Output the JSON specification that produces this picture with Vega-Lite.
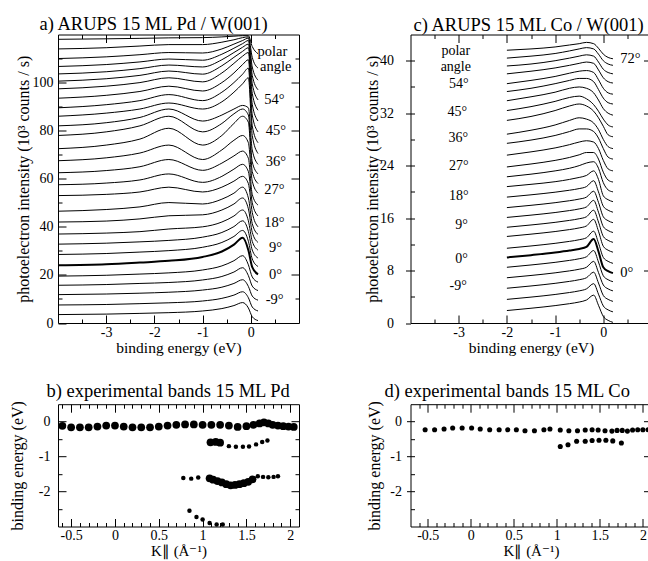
{
"$schema":"https://vega.github.io/schema/vega-lite/v6.json",
"padding":{"left":8,"top":13.5,"right":0,"bottom":0},
"background":"white",
"config":{"font":"Liberation Serif","view":{"stroke":"black","strokeWidth":1},
"axis":{"domain":false,"grid":false,"minExtent":0,"maxExtent":200,"tickColor":"black","tickWidth":1,"labelColor":"black","titleColor":"black","labelFont":"Liberation Serif","titleFont":"Liberation Serif","labelFontSize":14,"titleFontSize":16,"titleFontWeight":"normal","labelOverlap":false},
"text":{"font":"Liberation Serif"},
"title":{"font":"Liberation Serif","fontSize":18.5,"fontWeight":"normal","color":"black"}},
"datasets":{
"pd":[
{"k":1,"e":-4,"v":3.5},{"k":1,"e":-3,"v":3.7},{"k":1,"e":-2.3,"v":4.0},{"k":1,"e":-1.7,"v":4.3},{"k":1,"e":-1,"v":5.0},{"k":1,"e":-0.6,"v":6.0},{"k":1,"e":-0.35,"v":7.25},{"k":1,"e":-0.17,"v":8.5},{"k":1,"e":-0.05,"v":6.25},{"k":1,"e":0.03,"v":2.6},{"k":1,"e":0.15,"v":1.0},
{"k":2,"e":-4,"v":7.5},{"k":2,"e":-3,"v":7.7},{"k":2,"e":-2.3,"v":8.05},{"k":2,"e":-1.7,"v":8.4},{"k":2,"e":-1,"v":9.15},{"k":2,"e":-0.6,"v":10.25},{"k":2,"e":-0.35,"v":11.6},{"k":2,"e":-0.17,"v":13.0},{"k":2,"e":-0.05,"v":10.5},{"k":2,"e":0.03,"v":6.65},{"k":2,"e":0.15,"v":5.0},
{"k":3,"e":-4,"v":11.8},{"k":3,"e":-3,"v":12.05},{"k":3,"e":-2.3,"v":12.4},{"k":3,"e":-1.7,"v":12.8},{"k":3,"e":-1,"v":13.7},{"k":3,"e":-0.6,"v":14.9},{"k":3,"e":-0.35,"v":16.45},{"k":3,"e":-0.17,"v":18.0},{"k":3,"e":-0.05,"v":15.2},{"k":3,"e":0.03,"v":11.2},{"k":3,"e":0.15,"v":9.5},
{"k":4,"e":-4,"v":15.7},{"k":4,"e":-3,"v":16.0},{"k":4,"e":-2.3,"v":16.45},{"k":4,"e":-1.7,"v":16.85},{"k":4,"e":-1,"v":17.9},{"k":4,"e":-0.6,"v":19.35},{"k":4,"e":-0.35,"v":21.2},{"k":4,"e":-0.17,"v":23.0},{"k":4,"e":-0.05,"v":19.7},{"k":4,"e":0.03,"v":15.35},{"k":4,"e":0.15,"v":13.5},
{"k":5,"e":-4,"v":19.5},{"k":5,"e":-3,"v":19.85},{"k":5,"e":-2.3,"v":20.35},{"k":5,"e":-1.7,"v":20.85},{"k":5,"e":-1,"v":22.05},{"k":5,"e":-0.6,"v":23.75},{"k":5,"e":-0.35,"v":25.9},{"k":5,"e":-0.17,"v":28.0},{"k":5,"e":-0.05,"v":24.2},{"k":5,"e":0.03,"v":19.15},{"k":5,"e":0.15,"v":17.0},
{"k":6,"e":-4,"v":24},{"k":6,"e":-3,"v":24.45},{"k":6,"e":-2.3,"v":25.15},{"k":6,"e":-1.7,"v":25.85},{"k":6,"e":-1,"v":27.45},{"k":6,"e":-0.6,"v":29.75},{"k":6,"e":-0.35,"v":32.6},{"k":6,"e":-0.17,"v":35.5},{"k":6,"e":-0.05,"v":30.3},{"k":6,"e":0.03,"v":23.2},{"k":6,"e":0.15,"v":20.2},
{"k":7,"e":-4,"v":28.5},{"k":7,"e":-3,"v":28.9},{"k":7,"e":-2.3,"v":29.5},{"k":7,"e":-1.7,"v":30.1},{"k":7,"e":-1,"v":31.5},{"k":7,"e":-0.6,"v":33.5},{"k":7,"e":-0.35,"v":36.0},{"k":7,"e":-0.17,"v":38.5},{"k":7,"e":-0.05,"v":34.0},{"k":7,"e":0.03,"v":26.65},{"k":7,"e":0.15,"v":23.5},
{"k":8,"e":-4,"v":32.8},{"k":8,"e":-3,"v":33.2},{"k":8,"e":-2.3,"v":33.75},{"k":8,"e":-1.7,"v":34.35},{"k":8,"e":-1,"v":35.7},{"k":8,"e":-0.6,"v":37.65},{"k":8,"e":-0.35,"v":40.1},{"k":8,"e":-0.17,"v":42.5},{"k":8,"e":-0.05,"v":38.1},{"k":8,"e":0.03,"v":30.35},{"k":8,"e":0.15,"v":27.0},
{"k":9,"e":-4,"v":37},{"k":9,"e":-3,"v":37.4},{"k":9,"e":-2.3,"v":38.0},{"k":9,"e":-1.7,"v":39.1},{"k":9,"e":-1,"v":40.0},{"k":9,"e":-0.6,"v":42.0},{"k":9,"e":-0.35,"v":44.5},{"k":9,"e":-0.17,"v":47.0},{"k":9,"e":-0.05,"v":42.5},{"k":9,"e":0.03,"v":33.95},{"k":9,"e":0.15,"v":30.3},
{"k":10,"e":-4,"v":42},{"k":10,"e":-3,"v":42.4},{"k":10,"e":-2.3,"v":43.3},{"k":10,"e":-1.7,"v":44.6},{"k":10,"e":-1,"v":45.0},{"k":10,"e":-0.6,"v":47.0},{"k":10,"e":-0.35,"v":49.5},{"k":10,"e":-0.17,"v":52.0},{"k":10,"e":-0.05,"v":47.5},{"k":10,"e":0.03,"v":37.7},{"k":10,"e":0.15,"v":33.5},
{"k":11,"e":-4,"v":46.5},{"k":11,"e":-3,"v":47.2},{"k":11,"e":-2.3,"v":48.3},{"k":11,"e":-1.7,"v":50.1},{"k":11,"e":-1,"v":49.5},{"k":11,"e":-0.6,"v":51.5},{"k":11,"e":-0.35,"v":54.0},{"k":11,"e":-0.17,"v":56.5},{"k":11,"e":-0.05,"v":52.0},{"k":11,"e":0.03,"v":41.35},{"k":11,"e":0.15,"v":36.8},
{"k":12,"e":-4,"v":53},{"k":12,"e":-3,"v":53.5},{"k":12,"e":-2.3,"v":54.5},{"k":12,"e":-1.7,"v":56.5},{"k":12,"e":-1,"v":54.5},{"k":12,"e":-0.6,"v":56.5},{"k":12,"e":-0.35,"v":59},{"k":12,"e":-0.17,"v":61},{"k":12,"e":-0.05,"v":58},{"k":12,"e":0.03,"v":46},{"k":12,"e":0.15,"v":40},
{"k":13,"e":-4,"v":57.5},{"k":13,"e":-3,"v":58.2},{"k":13,"e":-2.3,"v":59.5},{"k":13,"e":-1.7,"v":62},{"k":13,"e":-1,"v":58.5},{"k":13,"e":-0.6,"v":61},{"k":13,"e":-0.35,"v":64},{"k":13,"e":-0.17,"v":66},{"k":13,"e":-0.05,"v":63},{"k":13,"e":0.03,"v":50},{"k":13,"e":0.15,"v":44.5},
{"k":14,"e":-4,"v":62.5},{"k":14,"e":-3,"v":63.4},{"k":14,"e":-2.3,"v":65},{"k":14,"e":-1.7,"v":68},{"k":14,"e":-1,"v":63.5},{"k":14,"e":-0.6,"v":66.5},{"k":14,"e":-0.35,"v":69.5},{"k":14,"e":-0.17,"v":71.5},{"k":14,"e":-0.05,"v":68.5},{"k":14,"e":0.03,"v":53.5},{"k":14,"e":0.15,"v":49},
{"k":15,"e":-4,"v":67.5},{"k":15,"e":-3,"v":68.7},{"k":15,"e":-2.3,"v":70.7},{"k":15,"e":-1.7,"v":74},{"k":15,"e":-1,"v":68},{"k":15,"e":-0.6,"v":72},{"k":15,"e":-0.35,"v":76},{"k":15,"e":-0.17,"v":78},{"k":15,"e":-0.05,"v":75},{"k":15,"e":0.03,"v":59},{"k":15,"e":0.15,"v":54},
{"k":16,"e":-4,"v":72.5},{"k":16,"e":-3,"v":74},{"k":16,"e":-2.3,"v":76.5},{"k":16,"e":-1.7,"v":81},{"k":16,"e":-1,"v":74},{"k":16,"e":-0.6,"v":78},{"k":16,"e":-0.35,"v":83},{"k":16,"e":-0.17,"v":86},{"k":16,"e":-0.05,"v":83.5},{"k":16,"e":0.03,"v":63},{"k":16,"e":0.15,"v":58},
{"k":17,"e":-4,"v":78},{"k":17,"e":-3,"v":79.5},{"k":17,"e":-2.3,"v":82},{"k":17,"e":-1.7,"v":86},{"k":17,"e":-1,"v":79.5},{"k":17,"e":-0.6,"v":83},{"k":17,"e":-0.35,"v":87},{"k":17,"e":-0.17,"v":89},{"k":17,"e":-0.05,"v":86.5},{"k":17,"e":0.03,"v":67},{"k":17,"e":0.15,"v":62},
{"k":18,"e":-4,"v":82},{"k":18,"e":-3,"v":83.3},{"k":18,"e":-2.3,"v":85.5},{"k":18,"e":-1.7,"v":89},{"k":18,"e":-1,"v":84},{"k":18,"e":-0.6,"v":86.5},{"k":18,"e":-0.35,"v":89},{"k":18,"e":-0.17,"v":90.5},{"k":18,"e":-0.05,"v":89.5},{"k":18,"e":0.03,"v":72},{"k":18,"e":0.15,"v":66},
{"k":19,"e":-4,"v":86},{"k":19,"e":-3,"v":87.3},{"k":19,"e":-2.3,"v":89},{"k":19,"e":-1.7,"v":91.5},{"k":19,"e":-1,"v":89},{"k":19,"e":-0.6,"v":92},{"k":19,"e":-0.35,"v":96},{"k":19,"e":-0.17,"v":99.5},{"k":19,"e":-0.05,"v":102},{"k":19,"e":0.03,"v":78},{"k":19,"e":0.15,"v":70.5},
{"k":20,"e":-4,"v":89.5},{"k":20,"e":-3,"v":90.8},{"k":20,"e":-2.3,"v":92.5},{"k":20,"e":-1.7,"v":95},{"k":20,"e":-1,"v":92.5},{"k":20,"e":-0.6,"v":96},{"k":20,"e":-0.35,"v":100},{"k":20,"e":-0.17,"v":103.5},{"k":20,"e":-0.05,"v":106},{"k":20,"e":0.03,"v":82},{"k":20,"e":0.15,"v":75},
{"k":21,"e":-4,"v":93.5},{"k":21,"e":-3,"v":94.7},{"k":21,"e":-2.3,"v":96.3},{"k":21,"e":-1.7,"v":98.5},{"k":21,"e":-1,"v":96.5},{"k":21,"e":-0.6,"v":100},{"k":21,"e":-0.35,"v":104},{"k":21,"e":-0.17,"v":107.5},{"k":21,"e":-0.05,"v":109.5},{"k":21,"e":0.03,"v":86.5},{"k":21,"e":0.15,"v":79.5},
{"k":22,"e":-4,"v":97.4},{"k":22,"e":-3,"v":98.5},{"k":22,"e":-2.3,"v":100},{"k":22,"e":-1.7,"v":102},{"k":22,"e":-1,"v":100.3},{"k":22,"e":-0.6,"v":104},{"k":22,"e":-0.35,"v":108},{"k":22,"e":-0.17,"v":111},{"k":22,"e":-0.05,"v":112.5},{"k":22,"e":0.03,"v":91},{"k":22,"e":0.15,"v":84},
{"k":23,"e":-4,"v":100.6},{"k":23,"e":-3,"v":101.6},{"k":23,"e":-2.3,"v":103},{"k":23,"e":-1.7,"v":104.8},{"k":23,"e":-1,"v":103.5},{"k":23,"e":-0.6,"v":107},{"k":23,"e":-0.35,"v":110.5},{"k":23,"e":-0.17,"v":113},{"k":23,"e":-0.05,"v":114.5},{"k":23,"e":0.03,"v":95.5},{"k":23,"e":0.15,"v":88.5},
{"k":24,"e":-4,"v":103.6},{"k":24,"e":-3,"v":104.5},{"k":24,"e":-2.3,"v":105.8},{"k":24,"e":-1.7,"v":107.3},{"k":24,"e":-1,"v":106.5},{"k":24,"e":-0.6,"v":109.5},{"k":24,"e":-0.35,"v":112.5},{"k":24,"e":-0.17,"v":114.7},{"k":24,"e":-0.05,"v":116},{"k":24,"e":0.03,"v":99.5},{"k":24,"e":0.15,"v":92.8},
{"k":25,"e":-4,"v":106.7},{"k":25,"e":-3,"v":107.5},{"k":25,"e":-2.3,"v":108.6},{"k":25,"e":-1.7,"v":109.8},{"k":25,"e":-1,"v":109.3},{"k":25,"e":-0.6,"v":111.8},{"k":25,"e":-0.35,"v":114.3},{"k":25,"e":-0.17,"v":116.2},{"k":25,"e":-0.05,"v":117.5},{"k":25,"e":0.03,"v":103},{"k":25,"e":0.15,"v":97},
{"k":26,"e":-4,"v":110},{"k":26,"e":-3,"v":110.7},{"k":26,"e":-2.3,"v":111.6},{"k":26,"e":-1.7,"v":112.5},{"k":26,"e":-1,"v":112.3},{"k":26,"e":-0.6,"v":114},{"k":26,"e":-0.35,"v":116},{"k":26,"e":-0.17,"v":117.5},{"k":26,"e":-0.05,"v":118.5},{"k":26,"e":0.03,"v":106.5},{"k":26,"e":0.15,"v":101},
{"k":27,"e":-4,"v":114},{"k":27,"e":-3,"v":114.5},{"k":27,"e":-2.3,"v":115.2},{"k":27,"e":-1.7,"v":115.8},{"k":27,"e":-1,"v":115.8},{"k":27,"e":-0.6,"v":116.8},{"k":27,"e":-0.35,"v":117.8},{"k":27,"e":-0.17,"v":118.7},{"k":27,"e":-0.05,"v":119},{"k":27,"e":0.03,"v":110.5},{"k":27,"e":0.15,"v":106},
{"k":28,"e":-4,"v":118},{"k":28,"e":-3,"v":118.2},{"k":28,"e":-2.3,"v":118.4},{"k":28,"e":-1.7,"v":118.6},{"k":28,"e":-1,"v":118.7},{"k":28,"e":-0.6,"v":119},{"k":28,"e":-0.35,"v":119.3},{"k":28,"e":-0.17,"v":119.5},{"k":28,"e":-0.05,"v":119.5},{"k":28,"e":0.03,"v":115},{"k":28,"e":0.15,"v":112}
],
"co":[
{"k":1,"e":-2,"v":1.9},{"k":1,"e":-1.5,"v":2.25},{"k":1,"e":-1,"v":2.65},{"k":1,"e":-0.7,"v":2.95},{"k":1,"e":-0.5,"v":3.2},{"k":1,"e":-0.35,"v":3.5},{"k":1,"e":-0.2,"v":4.25},{"k":1,"e":-0.1,"v":2.7},{"k":1,"e":0,"v":1.0},{"k":1,"e":0.1,"v":0.4},{"k":1,"e":0.2,"v":0.1},
{"k":2,"e":-2,"v":3.6},{"k":2,"e":-1.5,"v":3.95},{"k":2,"e":-1,"v":4.35},{"k":2,"e":-0.7,"v":4.65},{"k":2,"e":-0.5,"v":4.9},{"k":2,"e":-0.35,"v":5.2},{"k":2,"e":-0.2,"v":6.0},{"k":2,"e":-0.1,"v":4.4},{"k":2,"e":0,"v":2.6},{"k":2,"e":0.1,"v":2.0},{"k":2,"e":0.2,"v":1.7},
{"k":3,"e":-2,"v":5.3},{"k":3,"e":-1.5,"v":5.65},{"k":3,"e":-1,"v":6.05},{"k":3,"e":-0.7,"v":6.35},{"k":3,"e":-0.5,"v":6.6},{"k":3,"e":-0.35,"v":6.9},{"k":3,"e":-0.2,"v":7.75},{"k":3,"e":-0.1,"v":6.1},{"k":3,"e":0,"v":4.2},{"k":3,"e":0.1,"v":3.6},{"k":3,"e":0.2,"v":3.3},
{"k":4,"e":-2,"v":6.9},{"k":4,"e":-1.5,"v":7.25},{"k":4,"e":-1,"v":7.65},{"k":4,"e":-0.7,"v":7.95},{"k":4,"e":-0.5,"v":8.2},{"k":4,"e":-0.35,"v":8.5},{"k":4,"e":-0.2,"v":9.4},{"k":4,"e":-0.1,"v":7.7},{"k":4,"e":0,"v":5.8},{"k":4,"e":0.1,"v":5.2},{"k":4,"e":0.2,"v":4.9},
{"k":5,"e":-2,"v":8.5},{"k":5,"e":-1.5,"v":8.85},{"k":5,"e":-1,"v":9.25},{"k":5,"e":-0.7,"v":9.55},{"k":5,"e":-0.5,"v":9.8},{"k":5,"e":-0.35,"v":10.1},{"k":5,"e":-0.2,"v":11.05},{"k":5,"e":-0.1,"v":9.3},{"k":5,"e":0,"v":7.2},{"k":5,"e":0.1,"v":6.6},{"k":5,"e":0.2,"v":6.3},
{"k":6,"e":-2,"v":10.0},{"k":6,"e":-1.5,"v":10.35},{"k":6,"e":-1,"v":10.75},{"k":6,"e":-0.7,"v":11.05},{"k":6,"e":-0.5,"v":11.3},{"k":6,"e":-0.35,"v":11.6},{"k":6,"e":-0.2,"v":12.8},{"k":6,"e":-0.1,"v":10.9},{"k":6,"e":0,"v":8.5},{"k":6,"e":0.1,"v":7.9},{"k":6,"e":0.2,"v":7.6},
{"k":7,"e":-2,"v":11.4},{"k":7,"e":-1.5,"v":11.75},{"k":7,"e":-1,"v":12.15},{"k":7,"e":-0.7,"v":12.45},{"k":7,"e":-0.5,"v":12.7},{"k":7,"e":-0.35,"v":13.0},{"k":7,"e":-0.2,"v":14.0},{"k":7,"e":-0.1,"v":12.2},{"k":7,"e":0,"v":10.0},{"k":7,"e":0.1,"v":9.4},{"k":7,"e":0.2,"v":9.1},
{"k":8,"e":-2,"v":13.2},{"k":8,"e":-1.5,"v":13.55},{"k":8,"e":-1,"v":13.95},{"k":8,"e":-0.7,"v":14.25},{"k":8,"e":-0.5,"v":14.5},{"k":8,"e":-0.35,"v":14.8},{"k":8,"e":-0.2,"v":15.8},{"k":8,"e":-0.1,"v":14.0},{"k":8,"e":0,"v":11.7},{"k":8,"e":0.1,"v":11.1},{"k":8,"e":0.2,"v":10.8},
{"k":9,"e":-2,"v":14.6},{"k":9,"e":-1.5,"v":14.95},{"k":9,"e":-1,"v":15.35},{"k":9,"e":-0.7,"v":15.65},{"k":9,"e":-0.5,"v":15.9},{"k":9,"e":-0.35,"v":16.2},{"k":9,"e":-0.2,"v":17.2},{"k":9,"e":-0.1,"v":15.4},{"k":9,"e":0,"v":13.2},{"k":9,"e":0.1,"v":12.6},{"k":9,"e":0.2,"v":12.3},
{"k":10,"e":-2,"v":16.1},{"k":10,"e":-1.5,"v":16.45},{"k":10,"e":-1,"v":16.85},{"k":10,"e":-0.7,"v":17.15},{"k":10,"e":-0.5,"v":17.4},{"k":10,"e":-0.35,"v":17.7},{"k":10,"e":-0.2,"v":18.7},{"k":10,"e":-0.1,"v":16.9},{"k":10,"e":0,"v":14.7},{"k":10,"e":0.1,"v":14.1},{"k":10,"e":0.2,"v":13.8},
{"k":11,"e":-2,"v":17.6},{"k":11,"e":-1.5,"v":17.95},{"k":11,"e":-1,"v":18.35},{"k":11,"e":-0.7,"v":18.65},{"k":11,"e":-0.5,"v":18.9},{"k":11,"e":-0.35,"v":19.2},{"k":11,"e":-0.2,"v":20.1},{"k":11,"e":-0.1,"v":18.4},{"k":11,"e":0,"v":16.2},{"k":11,"e":0.1,"v":15.6},{"k":11,"e":0.2,"v":15.3},
{"k":12,"e":-2,"v":19.2},{"k":12,"e":-1.5,"v":19.55},{"k":12,"e":-1,"v":19.95},{"k":12,"e":-0.7,"v":20.25},{"k":12,"e":-0.5,"v":20.5},{"k":12,"e":-0.35,"v":20.8},{"k":12,"e":-0.2,"v":21.7},{"k":12,"e":-0.1,"v":20.0},{"k":12,"e":0,"v":17.8},{"k":12,"e":0.1,"v":17.2},{"k":12,"e":0.2,"v":16.9},
{"k":13,"e":-2,"v":20.8},{"k":13,"e":-1.5,"v":21.15},{"k":13,"e":-1,"v":21.55},{"k":13,"e":-0.7,"v":21.9},{"k":13,"e":-0.5,"v":22.2},{"k":13,"e":-0.35,"v":22.5},{"k":13,"e":-0.2,"v":23.2},{"k":13,"e":-0.1,"v":21.9},{"k":13,"e":0,"v":19.4},{"k":13,"e":0.1,"v":18.8},{"k":13,"e":0.2,"v":18.5},
{"k":14,"e":-2,"v":22.3},{"k":14,"e":-1.5,"v":22.7},{"k":14,"e":-1,"v":23.2},{"k":14,"e":-0.7,"v":23.6},{"k":14,"e":-0.5,"v":24.0},{"k":14,"e":-0.35,"v":24.4},{"k":14,"e":-0.2,"v":24.6},{"k":14,"e":-0.1,"v":23.6},{"k":14,"e":0,"v":21.4},{"k":14,"e":0.1,"v":20.3},{"k":14,"e":0.2,"v":20.0},
{"k":15,"e":-2,"v":23.8},{"k":15,"e":-1.5,"v":24.25},{"k":15,"e":-1,"v":24.8},{"k":15,"e":-0.7,"v":25.25},{"k":15,"e":-0.5,"v":25.65},{"k":15,"e":-0.35,"v":26.0},{"k":15,"e":-0.2,"v":26.0},{"k":15,"e":-0.1,"v":25.0},{"k":15,"e":0,"v":23.0},{"k":15,"e":0.1,"v":21.8},{"k":15,"e":0.2,"v":21.5},
{"k":16,"e":-2,"v":25.6},{"k":16,"e":-1.5,"v":26.1},{"k":16,"e":-1,"v":26.7},{"k":16,"e":-0.7,"v":27.2},{"k":16,"e":-0.5,"v":27.6},{"k":16,"e":-0.35,"v":27.8},{"k":16,"e":-0.2,"v":27.6},{"k":16,"e":-0.1,"v":26.6},{"k":16,"e":0,"v":24.8},{"k":16,"e":0.1,"v":23.5},{"k":16,"e":0.2,"v":23.2},
{"k":17,"e":-2,"v":27.4},{"k":17,"e":-1.5,"v":27.9},{"k":17,"e":-1,"v":28.6},{"k":17,"e":-0.7,"v":29.2},{"k":17,"e":-0.5,"v":29.6},{"k":17,"e":-0.35,"v":29.6},{"k":17,"e":-0.2,"v":29.2},{"k":17,"e":-0.1,"v":28.2},{"k":17,"e":0,"v":26.6},{"k":17,"e":0.1,"v":25.3},{"k":17,"e":0.2,"v":25.0},
{"k":18,"e":-2,"v":28.8},{"k":18,"e":-1.5,"v":29.4},{"k":18,"e":-1,"v":30.2},{"k":18,"e":-0.7,"v":30.9},{"k":18,"e":-0.5,"v":31.3},{"k":18,"e":-0.35,"v":31.1},{"k":18,"e":-0.2,"v":30.5},{"k":18,"e":-0.1,"v":29.5},{"k":18,"e":0,"v":28.0},{"k":18,"e":0.1,"v":26.9},{"k":18,"e":0.2,"v":26.6},
{"k":19,"e":-2,"v":30.9},{"k":19,"e":-1.5,"v":31.5},{"k":19,"e":-1,"v":32.4},{"k":19,"e":-0.7,"v":33.1},{"k":19,"e":-0.5,"v":33.4},{"k":19,"e":-0.35,"v":33.1},{"k":19,"e":-0.2,"v":32.3},{"k":19,"e":-0.1,"v":31.3},{"k":19,"e":0,"v":30.0},{"k":19,"e":0.1,"v":28.7},{"k":19,"e":0.2,"v":28.4},
{"k":20,"e":-2,"v":32.4},{"k":20,"e":-1.5,"v":33.0},{"k":20,"e":-1,"v":33.8},{"k":20,"e":-0.7,"v":34.4},{"k":20,"e":-0.5,"v":34.6},{"k":20,"e":-0.35,"v":34.2},{"k":20,"e":-0.2,"v":33.3},{"k":20,"e":-0.1,"v":32.3},{"k":20,"e":0,"v":31.1},{"k":20,"e":0.1,"v":30.2},{"k":20,"e":0.2,"v":29.9},
{"k":21,"e":-2,"v":33.9},{"k":21,"e":-1.5,"v":34.5},{"k":21,"e":-1,"v":35.2},{"k":21,"e":-0.7,"v":35.8},{"k":21,"e":-0.5,"v":36.0},{"k":21,"e":-0.35,"v":35.8},{"k":21,"e":-0.2,"v":35.1},{"k":21,"e":-0.1,"v":34.0},{"k":21,"e":0,"v":32.7},{"k":21,"e":0.1,"v":32.0},{"k":21,"e":0.2,"v":31.7},
{"k":22,"e":-2,"v":35.3},{"k":22,"e":-1.5,"v":35.8},{"k":22,"e":-1,"v":36.5},{"k":22,"e":-0.7,"v":37.0},{"k":22,"e":-0.5,"v":37.3},{"k":22,"e":-0.35,"v":37.3},{"k":22,"e":-0.2,"v":36.8},{"k":22,"e":-0.1,"v":35.6},{"k":22,"e":0,"v":34.3},{"k":22,"e":0.1,"v":33.6},{"k":22,"e":0.2,"v":33.4},
{"k":23,"e":-2,"v":36.5},{"k":23,"e":-1.5,"v":37.0},{"k":23,"e":-1,"v":37.6},{"k":23,"e":-0.7,"v":38.1},{"k":23,"e":-0.5,"v":38.4},{"k":23,"e":-0.35,"v":38.5},{"k":23,"e":-0.2,"v":38.2},{"k":23,"e":-0.1,"v":37.1},{"k":23,"e":0,"v":35.8},{"k":23,"e":0.1,"v":35.1},{"k":23,"e":0.2,"v":34.9},
{"k":24,"e":-2,"v":38.0},{"k":24,"e":-1.5,"v":38.4},{"k":24,"e":-1,"v":38.9},{"k":24,"e":-0.7,"v":39.3},{"k":24,"e":-0.5,"v":39.6},{"k":24,"e":-0.35,"v":39.8},{"k":24,"e":-0.2,"v":39.6},{"k":24,"e":-0.1,"v":38.6},{"k":24,"e":0,"v":37.4},{"k":24,"e":0.1,"v":36.8},{"k":24,"e":0.2,"v":36.6},
{"k":25,"e":-2,"v":39.2},{"k":25,"e":-1.5,"v":39.5},{"k":25,"e":-1,"v":40.0},{"k":25,"e":-0.7,"v":40.4},{"k":25,"e":-0.5,"v":40.7},{"k":25,"e":-0.35,"v":40.9},{"k":25,"e":-0.2,"v":40.7},{"k":25,"e":-0.1,"v":39.8},{"k":25,"e":0,"v":38.7},{"k":25,"e":0.1,"v":38.2},{"k":25,"e":0.2,"v":38.0},
{"k":26,"e":-2,"v":40.4},{"k":26,"e":-1.5,"v":40.7},{"k":26,"e":-1,"v":41.1},{"k":26,"e":-0.7,"v":41.5},{"k":26,"e":-0.5,"v":41.8},{"k":26,"e":-0.35,"v":42.0},{"k":26,"e":-0.2,"v":41.8},{"k":26,"e":-0.1,"v":41.0},{"k":26,"e":0,"v":40.0},{"k":26,"e":0.1,"v":39.5},{"k":26,"e":0.2,"v":39.3},
{"k":27,"e":-2,"v":41.6},{"k":27,"e":-1.5,"v":41.8},{"k":27,"e":-1,"v":42.1},{"k":27,"e":-0.7,"v":42.4},{"k":27,"e":-0.5,"v":42.6},{"k":27,"e":-0.35,"v":42.8},{"k":27,"e":-0.2,"v":42.6},{"k":27,"e":-0.1,"v":41.9},{"k":27,"e":0,"v":41.0},{"k":27,"e":0.1,"v":40.5},{"k":27,"e":0.2,"v":40.3}
],
"pdlab":[
{"e":0.14,"v":112.8,"t":"polar"},{"e":0.19,"v":106.5,"t":"angle"},{"e":0.28,"v":92.8,"t":"54°"},{"e":0.31,"v":79.9,"t":"45°"},{"e":0.31,"v":67,"t":"36°"},{"e":0.28,"v":55.3,"t":"27°"},{"e":0.28,"v":41.5,"t":"18°"},{"e":0.38,"v":31.1,"t":"9°"},{"e":0.38,"v":19.9,"t":"0°"},{"e":0.31,"v":9.5,"t":"-9°"}
],
"colabL":[
{"e":-3.06,"v":41.5,"t":"polar"},{"e":-3.06,"v":39.1,"t":"angle"},{"e":-3.0,"v":36.4,"t":"54°"},{"e":-3.03,"v":32.2,"t":"45°"},{"e":-3.01,"v":28.2,"t":"36°"},{"e":-3.0,"v":23.9,"t":"27°"},{"e":-3.0,"v":19.3,"t":"18°"},{"e":-2.94,"v":15.0,"t":"9°"},{"e":-2.94,"v":9.8,"t":"0°"},{"e":-3.01,"v":5.6,"t":"-9°"}
],
"colabR":[
{"e":0.35,"v":40.2,"t":"72°"},{"e":0.35,"v":7.6,"t":"0°"}
],
"pdb":[
{"q":-0.6,"b":-0.12,"g":"strong"},{"q":-0.5,"b":-0.16,"g":"strong"},{"q":-0.4,"b":-0.16,"g":"strong"},{"q":-0.3,"b":-0.16,"g":"strong"},{"q":-0.2,"b":-0.14,"g":"strong"},{"q":-0.1,"b":-0.11,"g":"strong"},{"q":0,"b":-0.11,"g":"strong"},{"q":0.1,"b":-0.14,"g":"strong"},{"q":0.2,"b":-0.16,"g":"strong"},{"q":0.3,"b":-0.16,"g":"strong"},{"q":0.4,"b":-0.16,"g":"strong"},{"q":0.5,"b":-0.14,"g":"strong"},{"q":0.6,"b":-0.11,"g":"strong"},{"q":0.7,"b":-0.09,"g":"strong"},{"q":0.8,"b":-0.08,"g":"strong"},{"q":0.9,"b":-0.08,"g":"strong"},{"q":1.0,"b":-0.09,"g":"strong"},{"q":1.1,"b":-0.09,"g":"strong"},{"q":1.2,"b":-0.09,"g":"strong"},{"q":1.3,"b":-0.11,"g":"strong"},{"q":1.4,"b":-0.15,"g":"strong"},{"q":1.5,"b":-0.13,"g":"strong"},{"q":1.58,"b":-0.09,"g":"strong"},{"q":1.65,"b":-0.05,"g":"strong"},{"q":1.7,"b":-0.02,"g":"strong"},{"q":1.75,"b":-0.05,"g":"strong"},{"q":1.8,"b":-0.09,"g":"strong"},{"q":1.86,"b":-0.11,"g":"strong"},{"q":1.92,"b":-0.13,"g":"strong"},{"q":1.98,"b":-0.14,"g":"strong"},{"q":2.04,"b":-0.15,"g":"strong"},
{"q":1.09,"b":-0.59,"g":"strong"},{"q":1.15,"b":-0.58,"g":"strong"},{"q":1.2,"b":-0.6,"g":"strong"},{"q":1.3,"b":-0.7,"g":"weak"},{"q":1.38,"b":-0.72,"g":"weak"},{"q":1.46,"b":-0.72,"g":"weak"},{"q":1.53,"b":-0.71,"g":"weak"},{"q":1.61,"b":-0.65,"g":"weak"},{"q":1.68,"b":-0.58,"g":"weak"},{"q":1.74,"b":-0.54,"g":"weak"},
{"q":0.78,"b":-1.61,"g":"weak"},{"q":0.87,"b":-1.63,"g":"weak"},{"q":0.95,"b":-1.6,"g":"weak"},{"q":1.08,"b":-1.62,"g":"strong"},{"q":1.12,"b":-1.66,"g":"strong"},{"q":1.17,"b":-1.7,"g":"strong"},{"q":1.22,"b":-1.74,"g":"strong"},{"q":1.27,"b":-1.79,"g":"strong"},{"q":1.32,"b":-1.82,"g":"strong"},{"q":1.37,"b":-1.81,"g":"strong"},{"q":1.42,"b":-1.79,"g":"strong"},{"q":1.47,"b":-1.76,"g":"strong"},{"q":1.52,"b":-1.72,"g":"strong"},{"q":1.57,"b":-1.65,"g":"strong"},{"q":1.63,"b":-1.56,"g":"weak"},{"q":1.69,"b":-1.58,"g":"weak"},{"q":1.75,"b":-1.59,"g":"weak"},{"q":1.81,"b":-1.58,"g":"weak"},{"q":1.86,"b":-1.56,"g":"weak"},
{"q":0.85,"b":-2.55,"g":"weak"},{"q":0.93,"b":-2.73,"g":"weak"},{"q":1.0,"b":-2.8,"g":"weak"},{"q":1.08,"b":-2.9,"g":"weak"},{"q":1.16,"b":-2.94,"g":"weak"},{"q":1.23,"b":-2.94,"g":"weak"}
],
"cob":[
{"q":-0.53,"b":-0.23},{"q":-0.42,"b":-0.23},{"q":-0.31,"b":-0.21},{"q":-0.21,"b":-0.18},{"q":-0.1,"b":-0.18},{"q":0.01,"b":-0.18},{"q":0.11,"b":-0.21},{"q":0.22,"b":-0.23},{"q":0.33,"b":-0.23},{"q":0.43,"b":-0.23},{"q":0.53,"b":-0.23},{"q":0.63,"b":-0.26},{"q":0.74,"b":-0.26},{"q":0.85,"b":-0.23},{"q":0.92,"b":-0.21},{"q":1.04,"b":-0.24},{"q":1.14,"b":-0.26},{"q":1.24,"b":-0.26},{"q":1.33,"b":-0.24},{"q":1.41,"b":-0.23},{"q":1.48,"b":-0.24},{"q":1.56,"b":-0.26},{"q":1.64,"b":-0.27},{"q":1.7,"b":-0.25},{"q":1.76,"b":-0.25},{"q":1.82,"b":-0.27},{"q":1.88,"b":-0.24},{"q":1.94,"b":-0.23},{"q":2.0,"b":-0.23},{"q":2.06,"b":-0.23},
{"q":1.04,"b":-0.71},{"q":1.13,"b":-0.66},{"q":1.23,"b":-0.56},{"q":1.33,"b":-0.56},{"q":1.41,"b":-0.54},{"q":1.49,"b":-0.53},{"q":1.57,"b":-0.53},{"q":1.65,"b":-0.55},{"q":1.75,"b":-0.61}
]
},
"columns":2,
"spacing":{"row":80.7,"column":111.5},
"bounds":"flush",
"concat":[
{
"width":241,"height":288.5,
"title":{"text":"a) ARUPS 15 ML Pd / W(001)","anchor":"start","frame":"group","dx":-18.5,"dy":22.5,"offset":7,"baseline":"alphabetic"},
"data":{"name":"pd"},
"layer":[
{"mark":{"type":"line","interpolate":"monotone","color":"black"},
"encoding":{
"x":{"field":"e","type":"quantitative","scale":{"domain":[-4,1],"nice":false,"zero":false},"axis":{"orient":"bottom","values":[-3,-2,-1,0],"tickSize":-8,"labelPadding":10,"labelExpr":"datum.value + ''","title":"binding energy (eV)","titleFontSize":15.5,"titleY":29.5,"titleBaseline":"alphabetic"}},
"y":{"field":"v","type":"quantitative","scale":{"domain":[0,120],"nice":false,"zero":false},"axis":{"orient":"left","values":[0,20,40,60,80,100],"tickSize":-8,"labelPadding":13,"title":"photoelectron intensity (10³ counts / s)","titleX":-35,"titleBaseline":"middle"}},
"detail":{"field":"k","type":"nominal"},
"strokeWidth":{"condition":{"test":"datum.k == 6","value":2},"value":1}}},
{"mark":{"type":"point","opacity":0},
"encoding":{
"x":{"field":"e","type":"quantitative","scale":{"domain":[-4,1],"nice":false,"zero":false},"axis":{"orient":"top","values":[-3,-2,-1,0],"tickSize":-8,"labels":false,"title":null}},
"y":{"field":"v","type":"quantitative","scale":{"domain":[0,120],"nice":false,"zero":false},"axis":{"orient":"right","values":[20,40,60,80,100],"tickSize":-8,"labels":false,"title":null}}}},
{"mark":{"type":"point","opacity":0},
"encoding":{
"x":{"field":"e","type":"quantitative","scale":{"domain":[-4,1],"nice":false,"zero":false},"axis":{"orient":"bottom","values":[-3.5,-2.5,-1.5,-0.5,0.5],"tickSize":-4,"labels":false,"title":null}},
"y":{"field":"v","type":"quantitative","scale":{"domain":[0,120],"nice":false,"zero":false},"axis":{"orient":"left","values":[10,30,50,70,90,110],"tickSize":-4,"labels":false,"title":null}}}},
{"mark":{"type":"point","opacity":0},
"encoding":{
"x":{"field":"e","type":"quantitative","scale":{"domain":[-4,1],"nice":false,"zero":false},"axis":{"orient":"top","values":[-3.5,-2.5,-1.5,-0.5,0.5],"tickSize":-4,"labels":false,"title":null}},
"y":{"field":"v","type":"quantitative","scale":{"domain":[0,120],"nice":false,"zero":false},"axis":{"orient":"right","values":[10,30,50,70,90,110],"tickSize":-4,"labels":false,"title":null}}}},
{"data":{"name":"pdlab"},"mark":{"type":"text","align":"left","baseline":"middle","fontSize":14.5,"font":"Liberation Serif","color":"black"},
"encoding":{
"x":{"field":"e","type":"quantitative","scale":{"domain":[-4,1],"nice":false,"zero":false},"axis":null},
"y":{"field":"v","type":"quantitative","scale":{"domain":[0,120],"nice":false,"zero":false},"axis":null},
"text":{"field":"t"}}}
],
"resolve":{"axis":{"x":"independent","y":"independent"}}
},
{
"width":241,"height":288.5,
"title":{"text":"c) ARUPS 15 ML Co / W(001)","anchor":"start","frame":"group","dx":3,"dy":22.5,"offset":7,"baseline":"alphabetic"},
"data":{"name":"co"},
"layer":[
{"mark":{"type":"line","interpolate":"monotone","color":"black"},
"encoding":{
"x":{"field":"e","type":"quantitative","scale":{"domain":[-4,1],"nice":false,"zero":false},"axis":{"orient":"bottom","values":[-3,-2,-1,0],"tickSize":-8,"labelPadding":10,"labelExpr":"datum.value + ''","title":"binding energy (eV)","titleFontSize":15.5,"titleY":29.5,"titleBaseline":"alphabetic"}},
"y":{"field":"v","type":"quantitative","scale":{"domain":[0,44],"nice":false,"zero":false},"axis":{"orient":"left","values":[0,8,16,24,32,40],"tickSize":5,"labelPadding":12,"title":"photoelectron intensity (10³ counts / s)","titleX":-38.5,"titleBaseline":"middle"}},
"detail":{"field":"k","type":"nominal"},
"strokeWidth":{"condition":{"test":"datum.k == 6","value":2},"value":1}}},
{"mark":{"type":"point","opacity":0},
"encoding":{
"x":{"field":"e","type":"quantitative","scale":{"domain":[-4,1],"nice":false,"zero":false},"axis":{"orient":"top","values":[-3,-2,-1,0],"tickSize":-8,"labels":false,"title":null}},
"y":{"field":"v","type":"quantitative","scale":{"domain":[0,44],"nice":false,"zero":false},"axis":{"orient":"right","values":[8,16,24,32,40],"tickSize":-8,"labels":false,"title":null}}}},
{"mark":{"type":"point","opacity":0},
"encoding":{
"x":{"field":"e","type":"quantitative","scale":{"domain":[-4,1],"nice":false,"zero":false},"axis":{"orient":"bottom","values":[-3.5,-2.5,-1.5,-0.5,0.5],"tickSize":-4,"labels":false,"title":null}},
"y":{"field":"v","type":"quantitative","scale":{"domain":[0,44],"nice":false,"zero":false},"axis":{"orient":"left","values":[4,8,12,16,20,24,28,32,36,40],"tickSize":-4,"labels":false,"title":null}}}},
{"mark":{"type":"point","opacity":0},
"encoding":{
"x":{"field":"e","type":"quantitative","scale":{"domain":[-4,1],"nice":false,"zero":false},"axis":{"orient":"top","values":[-3.5,-2.5,-1.5,-0.5,0.5],"tickSize":-4,"labels":false,"title":null}},
"y":{"field":"v","type":"quantitative","scale":{"domain":[0,44],"nice":false,"zero":false},"axis":{"orient":"right","values":[4,12,20,28,36],"tickSize":-4,"labels":false,"title":null}}}},
{"data":{"name":"colabL"},"mark":{"type":"text","align":"center","baseline":"middle","fontSize":14,"font":"Liberation Serif","color":"black"},
"encoding":{
"x":{"field":"e","type":"quantitative","scale":{"domain":[-4,1],"nice":false,"zero":false},"axis":null},
"y":{"field":"v","type":"quantitative","scale":{"domain":[0,44],"nice":false,"zero":false},"axis":null},
"text":{"field":"t"}}},
{"data":{"name":"colabR"},"mark":{"type":"text","align":"left","baseline":"middle","fontSize":14.5,"font":"Liberation Serif","color":"black"},
"encoding":{
"x":{"field":"e","type":"quantitative","scale":{"domain":[-4,1],"nice":false,"zero":false},"axis":null},
"y":{"field":"v","type":"quantitative","scale":{"domain":[0,44],"nice":false,"zero":false},"axis":null},
"text":{"field":"t"}}}
],
"resolve":{"axis":{"x":"independent","y":"independent"}}
},
{
"width":241,"height":122.3,
"title":{"text":"b) experimental bands 15 ML Pd","anchor":"start","frame":"group","dx":-11.5,"dy":22,"offset":7.5,"baseline":"alphabetic"},
"data":{"name":"pdb"},
"layer":[
{"mark":{"type":"circle","color":"black","opacity":1},
"encoding":{
"x":{"field":"q","type":"quantitative","scale":{"domain":[-0.65,2.1],"nice":false,"zero":false},"axis":{"orient":"bottom","values":[-0.5,0,0.5,1,1.5,2],"tickSize":-8,"labelPadding":10,"labelExpr":"datum.value + ''","title":"K∥ (Å⁻¹)","titleFontSize":15,"titleY":29,"titleBaseline":"alphabetic"}},
"y":{"field":"b","type":"quantitative","scale":{"domain":[-3,0.5],"nice":false,"zero":false},"axis":{"orient":"left","values":[0,-1,-2],"tickSize":-8,"labelPadding":16,"labelExpr":"datum.value + ''","title":"binding energy (eV)","titleX":-41,"titleBaseline":"middle"}},
"size":{"field":"g","type":"nominal","scale":{"domain":["strong","weak"],"range":[60,20]},"legend":null}}},
{"mark":{"type":"point","opacity":0},
"encoding":{
"x":{"field":"q","type":"quantitative","scale":{"domain":[-0.65,2.1],"nice":false,"zero":false},"axis":{"orient":"top","values":[-0.5,0,0.5,1,1.5,2],"tickSize":-8,"labels":false,"title":null}},
"y":{"field":"b","type":"quantitative","scale":{"domain":[-3,0.5],"nice":false,"zero":false},"axis":{"orient":"right","values":[0,-1,-2],"tickSize":-8,"labels":false,"title":null}}}},
{"mark":{"type":"point","opacity":0},
"encoding":{
"x":{"field":"q","type":"quantitative","scale":{"domain":[-0.65,2.1],"nice":false,"zero":false},"axis":{"orient":"bottom","values":[-0.6,-0.4,-0.3,-0.2,-0.1,0.1,0.2,0.3,0.4,0.6,0.7,0.8,0.9,1.1,1.2,1.3,1.4,1.6,1.7,1.8,1.9],"tickSize":-4,"labels":false,"title":null}},
"y":{"field":"b","type":"quantitative","scale":{"domain":[-3,0.5],"nice":false,"zero":false},"axis":{"orient":"left","values":[-0.5,-1.5,-2.5],"tickSize":-4,"labels":false,"title":null}}}},
{"mark":{"type":"point","opacity":0},
"encoding":{
"x":{"field":"q","type":"quantitative","scale":{"domain":[-0.65,2.1],"nice":false,"zero":false},"axis":{"orient":"top","values":[-0.6,-0.4,-0.3,-0.2,-0.1,0.1,0.2,0.3,0.4,0.6,0.7,0.8,0.9,1.1,1.2,1.3,1.4,1.6,1.7,1.8,1.9],"tickSize":-4,"labels":false,"title":null}},
"y":{"field":"b","type":"quantitative","scale":{"domain":[-3,0.5],"nice":false,"zero":false},"axis":{"orient":"right","values":[-0.5,-1.5,-2.5],"tickSize":-4,"labels":false,"title":null}}}}
],
"resolve":{"axis":{"x":"independent","y":"independent"}}
},
{
"width":241,"height":122.3,
"title":{"text":"d) experimental bands 15 ML Co","anchor":"start","frame":"group","dx":-26,"dy":22,"offset":7.5,"baseline":"alphabetic"},
"data":{"name":"cob"},
"layer":[
{"mark":{"type":"circle","color":"black","opacity":1,"size":26},
"encoding":{
"x":{"field":"q","type":"quantitative","scale":{"domain":[-0.7,2.1],"nice":false,"zero":false},"axis":{"orient":"bottom","values":[-0.5,0,0.5,1,1.5,2],"tickSize":-8,"labelPadding":10,"labelExpr":"datum.value + ''","title":"K∥ (Å⁻¹)","titleFontSize":15,"titleY":29,"titleBaseline":"alphabetic"}},
"y":{"field":"b","type":"quantitative","scale":{"domain":[-3,0.5],"nice":false,"zero":false},"axis":{"orient":"left","values":[0,-1,-2],"tickSize":4,"labelPadding":5,"labelExpr":"datum.value + ''","title":"binding energy (eV)","titleX":-36.5,"titleBaseline":"middle"}}}},
{"mark":{"type":"point","opacity":0},
"encoding":{
"x":{"field":"q","type":"quantitative","scale":{"domain":[-0.7,2.1],"nice":false,"zero":false},"axis":{"orient":"top","values":[-0.5,0,0.5,1,1.5,2],"tickSize":-8,"labels":false,"title":null}},
"y":{"field":"b","type":"quantitative","scale":{"domain":[-3,0.5],"nice":false,"zero":false},"axis":{"orient":"right","values":[0,-1,-2],"tickSize":-8,"labels":false,"title":null}}}},
{"mark":{"type":"point","opacity":0},
"encoding":{
"x":{"field":"q","type":"quantitative","scale":{"domain":[-0.7,2.1],"nice":false,"zero":false},"axis":{"orient":"bottom","values":[-0.6,-0.4,-0.3,-0.2,-0.1,0.1,0.2,0.3,0.4,0.6,0.7,0.8,0.9,1.1,1.2,1.3,1.4,1.6,1.7,1.8,1.9],"tickSize":-4,"labels":false,"title":null}},
"y":{"field":"b","type":"quantitative","scale":{"domain":[-3,0.5],"nice":false,"zero":false},"axis":{"orient":"left","values":[0,-0.5,-1,-1.5,-2,-2.5],"tickSize":-4,"labels":false,"title":null}}}},
{"mark":{"type":"point","opacity":0},
"encoding":{
"x":{"field":"q","type":"quantitative","scale":{"domain":[-0.7,2.1],"nice":false,"zero":false},"axis":{"orient":"top","values":[-0.6,-0.4,-0.3,-0.2,-0.1,0.1,0.2,0.3,0.4,0.6,0.7,0.8,0.9,1.1,1.2,1.3,1.4,1.6,1.7,1.8,1.9],"tickSize":-4,"labels":false,"title":null}},
"y":{"field":"b","type":"quantitative","scale":{"domain":[-3,0.5],"nice":false,"zero":false},"axis":{"orient":"right","values":[-0.5,-1.5,-2.5],"tickSize":-4,"labels":false,"title":null}}}}
],
"resolve":{"axis":{"x":"independent","y":"independent"}}
}
]
}
